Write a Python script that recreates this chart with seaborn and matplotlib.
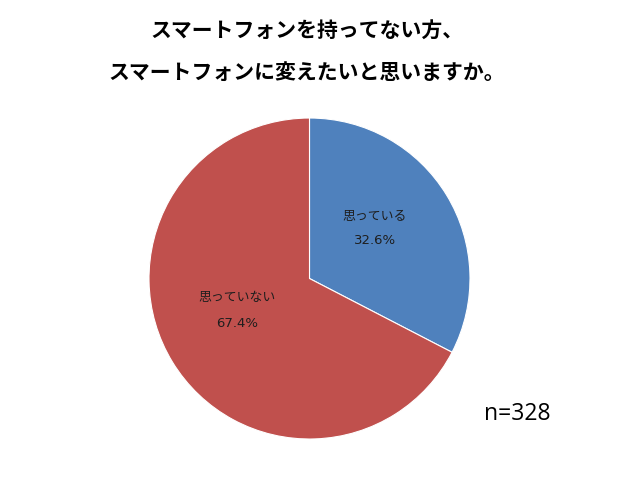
import matplotlib
matplotlib.use("Agg")
import matplotlib.pyplot as plt
import seaborn as sns

sns.set_theme(style="white")
plt.rcParams['font.family'] = ['DejaVu Sans', 'Noto Sans CJK JP']

# Data
categories = ["思っている", "思っていない"]
values = [32.6, 67.4]
colors = ["#4F81BD", "#C0504D"]
title_lines = ["スマートフォンを持ってない方、", "スマートフォンに変えたいと思いますか。"]
n_label = "n=328"

fig = plt.figure(figsize=(6.25, 4.95), dpi=100)
fig.patch.set_facecolor("white")
ax = fig.add_axes([0.2384, 0.1131, 0.5136, 0.6485])

wedges, _ = ax.pie(values, colors=colors, startangle=90, counterclock=False,
                   wedgeprops=dict(edgecolor="white", linewidth=0.8))
ax.set_xlim(-1, 1)
ax.set_ylim(-1, 1)
ax.set_aspect("equal")
ax.axis("off")

# labels inside slices
label_pos = [(0.406, 0.3875, 0.2375), (-0.45, -0.119, -0.281)]
for (x, yn, yp), cat, v in zip(label_pos, categories, values):
    ax.text(x, yn, cat, ha="center", va="center", fontsize=9.3, color="#1e1e1e",
            family=['Noto Sans CJK JP', 'DejaVu Sans'])
    ax.text(x, yp, f"{v:.1f}%", ha="center", va="center", fontsize=9.5, color="#1e1e1e")

# title
fig.text(307/625, 1 - 30/495, title_lines[0], ha="center", va="center", color="black",
         fontsize=15, fontweight="bold", family=['Noto Sans CJK JP', 'DejaVu Sans'])
fig.text(307/625, 1 - 72/495, title_lines[1], ha="center", va="center", color="black",
         fontsize=15, fontweight="bold", family=['Noto Sans CJK JP', 'DejaVu Sans'])

fig.text(517/625, 1 - 414/495, n_label, ha="center", va="center", fontsize=16.5,
         color="black", family=['Open Sans', 'DejaVu Sans'])

fig.savefig("out.png", dpi=100, facecolor="white")
